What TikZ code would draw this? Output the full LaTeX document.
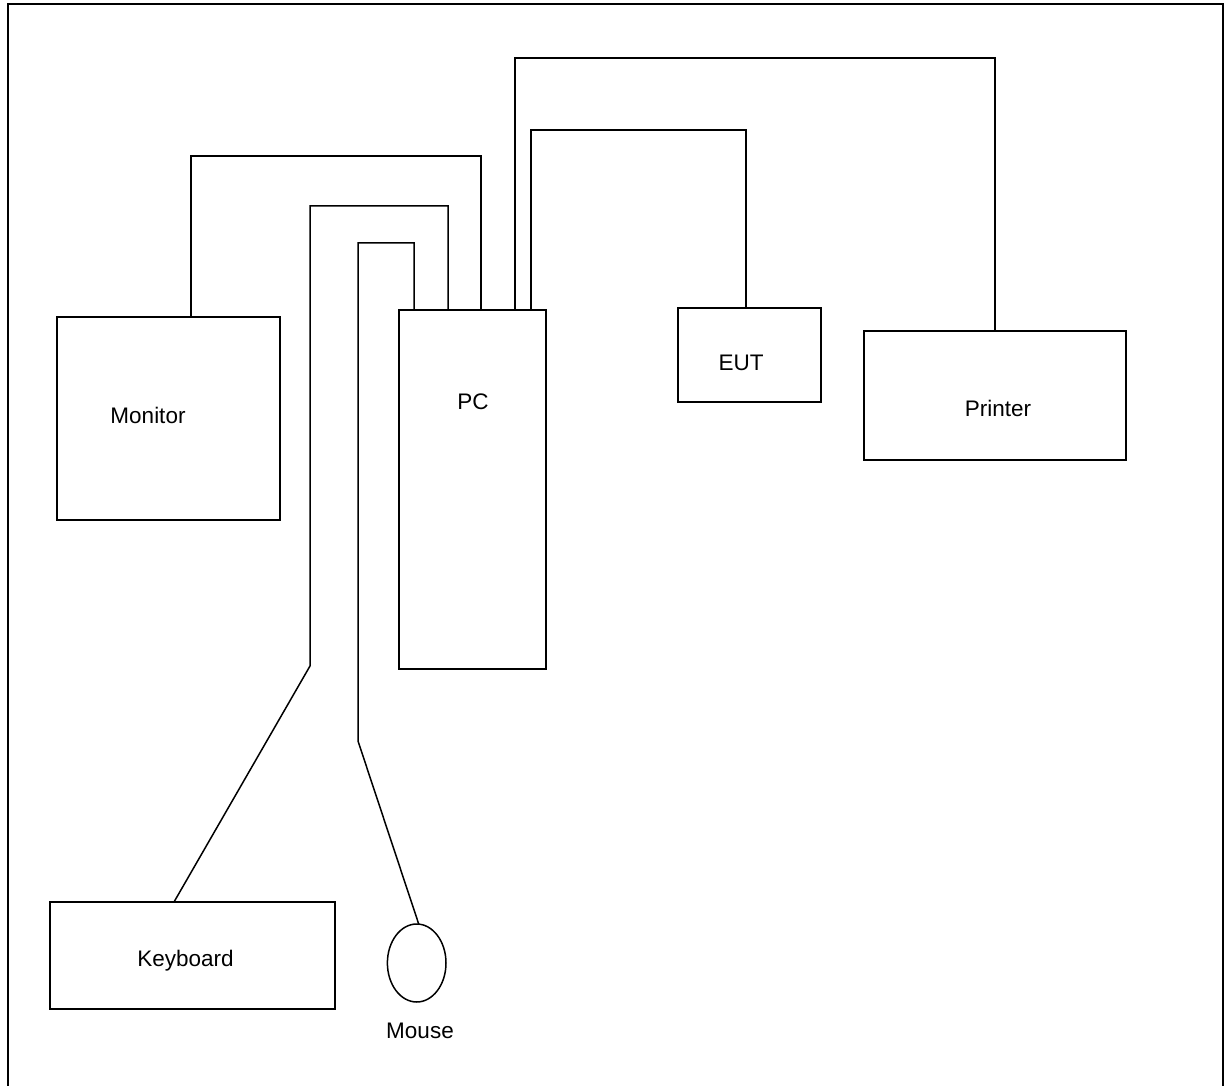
\documentclass[tikz,border=0pt]{standalone}
\usepackage{fontspec}
\setmainfont{Liberation Sans}
\usetikzlibrary{shapes.geometric}
\begin{document}
\begin{tikzpicture}[x=1pt,y=-1pt,
  box/.style={draw,line width=1.5pt,inner sep=0pt,outer sep=0pt},
  cable/.style={line width=1.5pt},
  lbl/.style={anchor=base,inner sep=0pt,font=\fontsize{22.5}{27}\selectfont}]
\useasboundingbox (0,0) rectangle (1224,1086);
\fill[white] (0,0) rectangle (1224,1086);
% frame
\draw[line width=2pt] (8,1092) -- (8,4.5) -- (1222.5,4.5) -- (1222.5,1092);
% boxes
\node[box,minimum width=223pt,minimum height=203pt] (monitor) at (168.5,418.5) {};
\node[box,minimum width=147pt,minimum height=359pt] (pc) at (472.5,489.5) {};
\node[box,minimum width=143pt,minimum height=94pt] (eut) at (749.5,355) {};
\node[box,minimum width=262pt,minimum height=129pt] (printer) at (995,395.5) {};
\node[box,minimum width=285pt,minimum height=107pt] (keyboard) at (192.5,955.5) {};
\node[box,ellipse,minimum width=58.6pt,minimum height=78pt] (mouse) at (416.7,963) {};
% labels
\node[lbl] (monitorlbl) at (148,423) {Monitor};
\node[lbl] (pclbl) at (473,409) {PC};
\node[lbl] (eutlbl) at (741,370) {EUT};
\node[lbl] (printerlbl) at (998,416.7) {Printer};
\node[lbl] (keyboardlbl) at (185.5,966.7) {Keyboard};
\node[lbl] (mouselbl) at (420,1038) {Mouse};
% cables
\draw[cable] ([xshift=22.5pt]monitor.north) |- (481,156) -- ([xshift=8.5pt]pc.north);
\draw[cable] ([xshift=-24.5pt]pc.north) |- (310,206) -- (310,666) -- ([xshift=-18.5pt]keyboard.north);
\draw[cable] ([xshift=-58.5pt]pc.north) |- (358,243) -- (358,741) -- ([xshift=2pt]mouse.north);
\draw[cable] ([xshift=42.5pt]pc.north) |- (995,58) -- (printer.north);
\draw[cable] ([xshift=58.5pt]pc.north) |- (746,130) -- ([xshift=-3.5pt]eut.north);
\end{tikzpicture}
\end{document}
